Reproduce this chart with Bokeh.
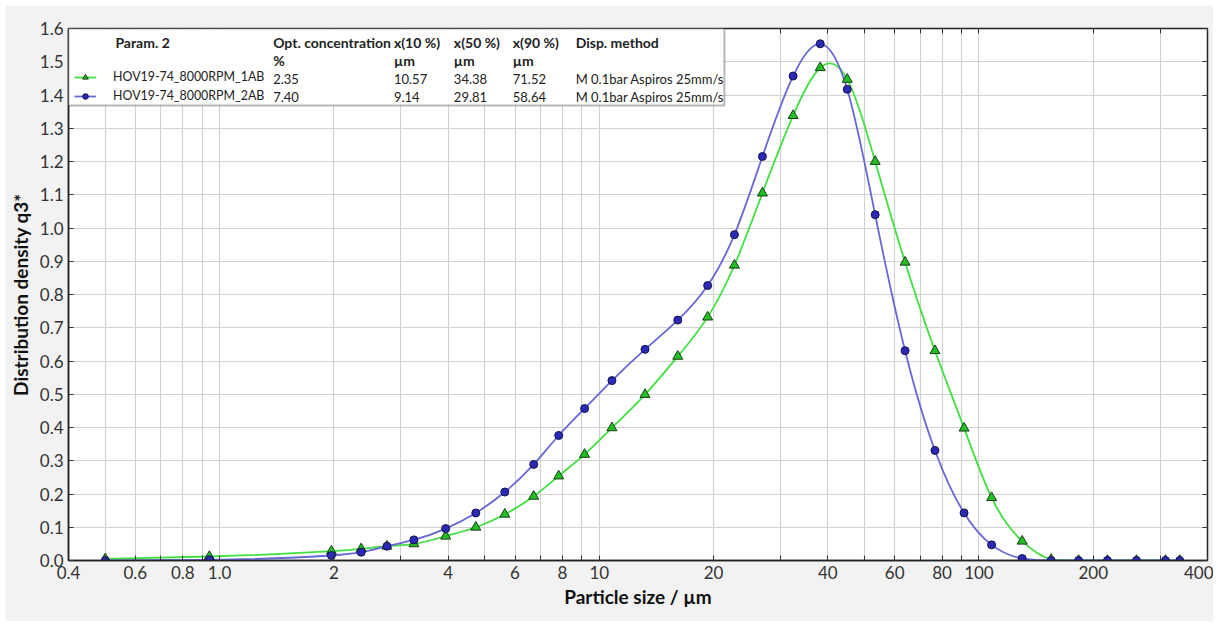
import numpy as np
from bokeh.plotting import figure
from bokeh.models import (Range1d, FixedTicker, LogAxis, LinearAxis, BoxAnnotation,
                          Label, Legend, LegendItem)
from bokeh.embed import file_html
from bokeh.resources import INLINE

# ---------------- data ----------------
particle_size_um = [0.5, 0.94, 1.97, 2.36, 2.76, 3.25, 3.94, 4.73, 5.64, 6.72, 7.82, 9.15,
                    10.8, 13.2, 16.1, 19.3, 22.7, 26.9, 32.4, 38.2, 45.0, 53.3, 63.9, 76.6,
                    91.4, 108, 130, 155, 183, 218, 260, 310, 338]
q3_1AB = [0.005, 0.012, 0.028, 0.035, 0.043, 0.050, 0.073, 0.100, 0.139, 0.193, 0.254, 0.319,
          0.399, 0.499, 0.614, 0.732, 0.888, 1.105, 1.338, 1.482, 1.447, 1.200, 0.897, 0.631,
          0.398, 0.189, 0.058, 0.003, 0.0, 0.0, 0.0, 0.0, 0.0]
q3_2AB = [0.0, 0.002, 0.015, 0.025, 0.043, 0.062, 0.096, 0.143, 0.206, 0.289, 0.376, 0.457,
          0.541, 0.635, 0.723, 0.827, 0.980, 1.215, 1.457, 1.554, 1.417, 1.040, 0.631, 0.331,
          0.143, 0.047, 0.006, 0.0, 0.0, 0.0, 0.0, 0.0, 0.0]

series_names = ["HOV19-74_8000RPM_1AB", "HOV19-74_8000RPM_2AB"]
opt_concentration = ["2.35", "7.40"]
x10 = ["10.57", "9.14"]
x50 = ["34.38", "29.81"]
x90 = ["71.52", "58.64"]
disp_method = ["M 0.1bar Aspiros 25mm/s", "M 0.1bar Aspiros 25mm/s"]
table_headers = ["Param. 2", "Opt. concentration", "x(10 %)", "x(50 %)", "x(90 %)", "Disp. method"]
table_units = ["", "%", "µm", "µm", "µm", ""]

x_ticks = [0.4, 0.5, 0.6, 0.7, 0.8, 0.9, 1, 2, 3, 4, 5, 6, 7, 8, 9, 10, 20, 30, 40, 50, 60,
           70, 80, 90, 100, 200, 300, 400]
x_tick_labels = ["0.4", "", "0.6", "", "0.8", "", "1.0", "2", "", "4", "", "6", "", "8", "",
                 "10", "20", "", "40", "", "60", "", "80", "", "100", "200", "", "400"]
y_ticks = [0.0, 0.1, 0.2, 0.3, 0.4, 0.5, 0.6, 0.7, 0.8, 0.9, 1.0, 1.1, 1.2, 1.3, 1.4, 1.5, 1.6]
y_tick_labels = ["0.0", "0.1", "0.2", "0.3", "0.4", "0.5", "0.6", "0.7", "0.8", "0.9", "1.0",
                 "1.1", "1.2", "1.3", "1.4", "1.5", "1.6"]

# ---------------- styling ----------------
FONT = "Lato"
GREEN_LINE, GREEN_FILL = "#3fe03f", "#1fc01f"
BLUE_LINE, BLUE_FILL = "#6767d6", "#2a2ab6"

W, H = 1208, 616
p = figure(width=W, height=H, x_axis_type="log",
           x_range=Range1d(0.4, 400), y_range=Range1d(0, 1.6),
           output_backend="svg", toolbar_location=None,
           min_border_left=61, min_border_right=6, min_border_top=23, min_border_bottom=61)
p.margin = (5, 5, 5, 5)
p.background_fill_color = "white"
p.border_fill_color = "#f2f2f2"
p.outline_line_color = "#222222"
p.outline_line_width = 1.5

xt = FixedTicker(ticks=x_ticks)
yt = FixedTicker(ticks=y_ticks)

for ax in p.xaxis:
    ax.ticker = xt
    ax.major_label_overrides = {t: l for t, l in zip(x_ticks, x_tick_labels)}
    ax.axis_label = "Particle size / µm"
for ax in p.yaxis:
    ax.ticker = yt
    ax.major_label_overrides = {t: l for t, l in zip(y_ticks, y_tick_labels)}
    ax.axis_label = "Distribution density q3*"

for ax in list(p.xaxis) + list(p.yaxis):
    ax.minor_tick_line_color = None
    ax.major_tick_in = 5
    ax.major_tick_out = 0
    ax.major_tick_line_color = "#333333"
    ax.axis_line_color = "#222222"
    ax.axis_line_width = 1.5
    ax.major_label_text_font = FONT
    ax.major_label_text_font_size = "17px"
    ax.major_label_text_color = "#333333"
    ax.axis_label_text_font = FONT
    ax.axis_label_text_font_size = "19px"
    ax.axis_label_text_font_style = "bold"
    ax.axis_label_text_color = "#111111"
p.xaxis.major_label_standoff = 5
p.xaxis.axis_label_standoff = 3
p.yaxis.major_label_standoff = 5
p.yaxis.axis_label_standoff = 5

# inward ticks on the top and right frame edges
top_ax = LogAxis(ticker=xt, major_label_text_font_size="0px", major_label_standoff=0,
                 major_tick_in=5, major_tick_out=0, minor_tick_line_color=None,
                 axis_line_color=None, major_tick_line_color="#333333")
top_ax.major_label_overrides = {t: "" for t in x_ticks}
right_ax = LinearAxis(ticker=yt, major_label_text_font_size="0px", major_label_standoff=0,
                      major_tick_in=5, major_tick_out=0, minor_tick_line_color=None,
                      axis_line_color=None, major_tick_line_color="#333333")
right_ax.major_label_overrides = {t: "" for t in y_ticks}
p.add_layout(top_ax, "above")
p.add_layout(right_ax, "right")

p.xgrid.ticker = xt
p.ygrid.ticker = yt
for g in (p.xgrid, p.ygrid):
    g.grid_line_color = "#d2d2d2"
    g.grid_line_width = 1.2


def spline_segments(xs, ys):
    """Natural cubic spline through the points (in log10 x), as Bezier segments."""
    u = np.log10(np.asarray(xs, dtype=float))
    y = np.asarray(ys, dtype=float)
    n = len(u)
    h = np.diff(u)
    A = np.zeros((n, n))
    r = np.zeros(n)
    A[0, 0] = A[-1, -1] = 1.0
    for i in range(1, n - 1):
        A[i, i - 1] = h[i - 1]
        A[i, i] = 2 * (h[i - 1] + h[i])
        A[i, i + 1] = h[i]
        r[i] = 6 * ((y[i + 1] - y[i]) / h[i] - (y[i] - y[i - 1]) / h[i - 1])
    M = np.linalg.solve(A, r)
    m = np.zeros(n)
    m[:-1] = (y[1:] - y[:-1]) / h - h * (2 * M[:-1] + M[1:]) / 6
    m[-1] = (y[-1] - y[-2]) / h[-1] + h[-1] * (M[-2] + 2 * M[-1]) / 6
    cy0 = np.clip(y[:-1] + m[:-1] * h / 3, 0, None)
    cy1 = np.clip(y[1:] - m[1:] * h / 3, 0, None)
    return dict(x0=10 ** u[:-1], y0=y[:-1], x1=10 ** u[1:], y1=y[1:],
                cx0=10 ** (u[:-1] + h / 3), cy0=cy0, cx1=10 ** (u[1:] - h / 3), cy1=cy1)


g_seg = spline_segments(particle_size_um, q3_1AB)
b_seg = spline_segments(particle_size_um, q3_2AB)
g_line = p.bezier(source=g_seg, x0="x0", y0="y0", x1="x1", y1="y1", cx0="cx0", cy0="cy0",
                  cx1="cx1", cy1="cy1", line_color=GREEN_LINE, line_width=1.8)
b_line = p.bezier(source=b_seg, x0="x0", y0="y0", x1="x1", y1="y1", cx0="cx0", cy0="cy0",
                  cx1="cx1", cy1="cy1", line_color=BLUE_LINE, line_width=1.8)
g_pts = p.scatter(particle_size_um, q3_1AB, marker="triangle", size=10,
                  fill_color=GREEN_FILL, line_color="#1c3a1c", line_width=1)
b_pts = p.scatter(particle_size_um, q3_2AB, marker="circle", size=8,
                  fill_color=BLUE_FILL, line_color="#14144a", line_width=1)

# ---------------- parameter table (legend) ----------------
PX_PER_DEC = 380.3
FRAME_H = 532.0


def dx(px):  # horizontal pixel offset from frame left -> data x
    return 0.4 * 10 ** (px / PX_PER_DEC)


def dy(px):  # vertical pixel offset from frame top -> data y
    return 1.6 * (1 - px / FRAME_H)


box = BoxAnnotation(left=0.4, right=dx(657), top=1.6, bottom=dy(77),
                    fill_color="white", fill_alpha=1.0, line_color="#111111", line_width=2)
p.add_layout(box)

col_px = [47, 205, 326, 386, 445, 508]
TXT = "#222222"
for cx, htxt, utxt in zip(col_px, table_headers, table_units):
    p.add_layout(Label(x=dx(cx), y=dy(13.5), text=htxt, text_font=FONT, text_font_size="14px",
                       text_font_style="bold", text_color=TXT, text_baseline="middle"))
    if utxt:
        p.add_layout(Label(x=dx(cx), y=dy(32), text=utxt, text_font=FONT, text_font_size="14px",
                           text_font_style="bold", text_color=TXT, text_baseline="middle"))

for row, off in enumerate([50, 68]):
    vals = [opt_concentration[row], x10[row], x50[row], x90[row], disp_method[row]]
    for cx, t in zip(col_px[1:], vals):
        p.add_layout(Label(x=dx(cx), y=dy(off), text=t, text_font=FONT, text_font_size="13px",
                           text_color=TXT, text_baseline="middle"))

legend = Legend(items=[LegendItem(label=series_names[0], renderers=[g_line, g_pts]),
                       LegendItem(label=series_names[1], renderers=[b_line, b_pts])],
                location=(6, int(FRAME_H - 75)), padding=0, margin=0, spacing=4,
                glyph_width=22, glyph_height=14, label_height=14, label_standoff=17,
                label_text_font=FONT, label_text_font_size="12.4px", label_text_color=TXT,
                background_fill_alpha=0, border_line_alpha=0)
p.add_layout(legend)

open("out.html", "w").write(file_html(p, INLINE))
